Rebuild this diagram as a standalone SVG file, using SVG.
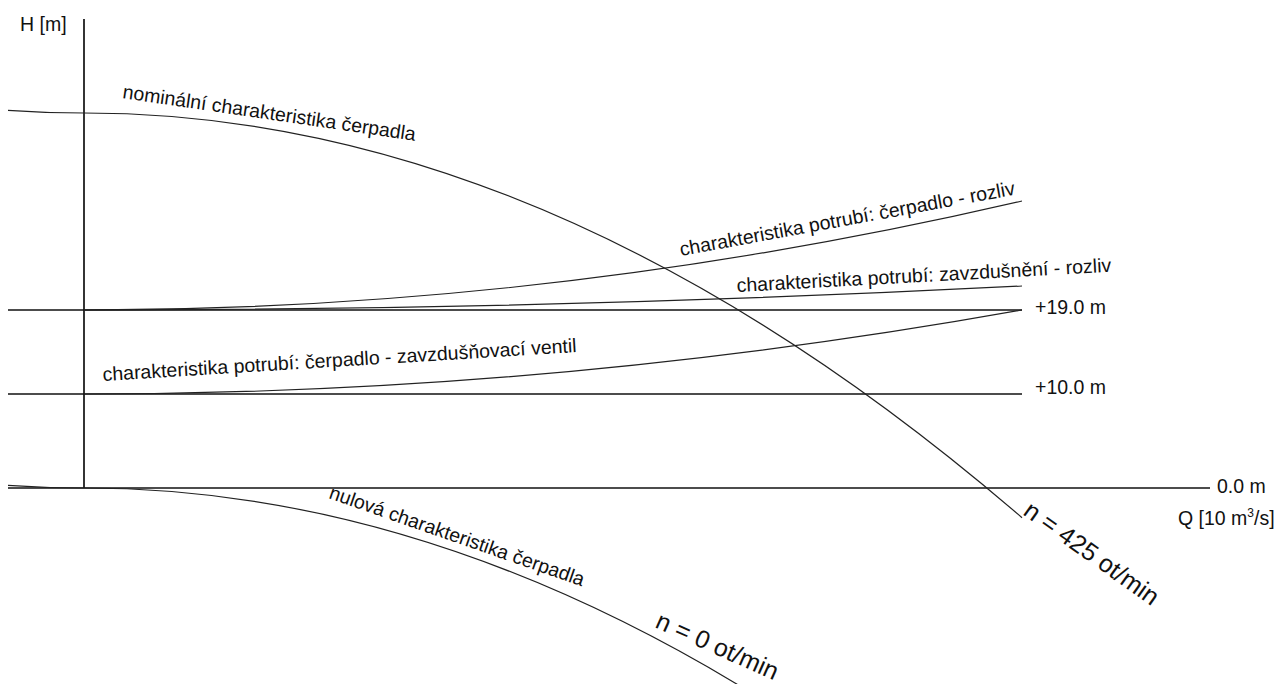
<svg xmlns="http://www.w3.org/2000/svg" width="1277" height="684" viewBox="0 0 1277 684">
<style>
.ax{stroke:#111;stroke-width:1.7;fill:none}
.cv{stroke:#222;stroke-width:1.2;fill:none}
text{font-family:"Liberation Sans",Arial,sans-serif;fill:#111}
.lb{font-size:19.5px}
.cl{font-size:19.5px}
.nl{font-size:25px}
</style>
<rect width="1277" height="684" fill="#fff"/>
<g id="axes">
<line class="ax" x1="84" y1="19" x2="84" y2="488"/>
<line class="ax" x1="8" y1="310" x2="1022" y2="310"/>
<line class="ax" x1="8" y1="394" x2="1022" y2="394"/>
<line class="ax" x1="8" y1="488" x2="1210" y2="488"/>
<text class="lb" x="20" y="31">H [m]</text>
<text class="lb" x="1035" y="314">+19.0 m</text>
<text class="lb" x="1035" y="394">+10.0 m</text>
<text class="lb" x="1217" y="493">0.0 m</text>
<text class="lb" x="1178" y="525">Q [10 m<tspan font-size="12" dy="-8">3</tspan><tspan dy="8">/s]</tspan></text>
</g>
<g id="connectors">
<path id="nominal" class="cv" d="M8,110.3 Q46,113 84,113 Q553,113 1022,517.7"/>
<path id="null" class="cv" d="M8,485.3 Q46,488 84,488 Q412,488 740,686"/>
<path id="pipe1" class="cv" d="M84,310 Q553,310 1022,201"/>
<path id="pipe2" class="cv" d="M84,310 Q553,310 1022,286"/>
<path id="pipe3" class="cv" d="M84,394 Q553,394 1022,310"/>
</g>
<g id="labels">
<text class="cl" transform="translate(122,98) rotate(8.3)">nominální charakteristika čerpadla</text>
<text class="cl" transform="translate(328,498) rotate(19.2)">nulová charakteristika čerpadla</text>
<text class="cl" transform="translate(681,256) rotate(-10.4)">charakteristika potrubí: čerpadlo - rozliv</text>
<text class="cl" transform="translate(737,292) rotate(-3.1)">charakteristika potrubí: zavzdušnění - rozliv</text>
<text class="cl" transform="translate(103,381) rotate(-3.5)">charakteristika potrubí: čerpadlo - zavzdušňovací ventil</text>
<text class="nl" transform="translate(1022,514) rotate(35.5)">n = 425 ot/min</text>
<text class="nl" transform="translate(654,627) rotate(24)">n = 0 ot/min</text>
</g>
</svg>
